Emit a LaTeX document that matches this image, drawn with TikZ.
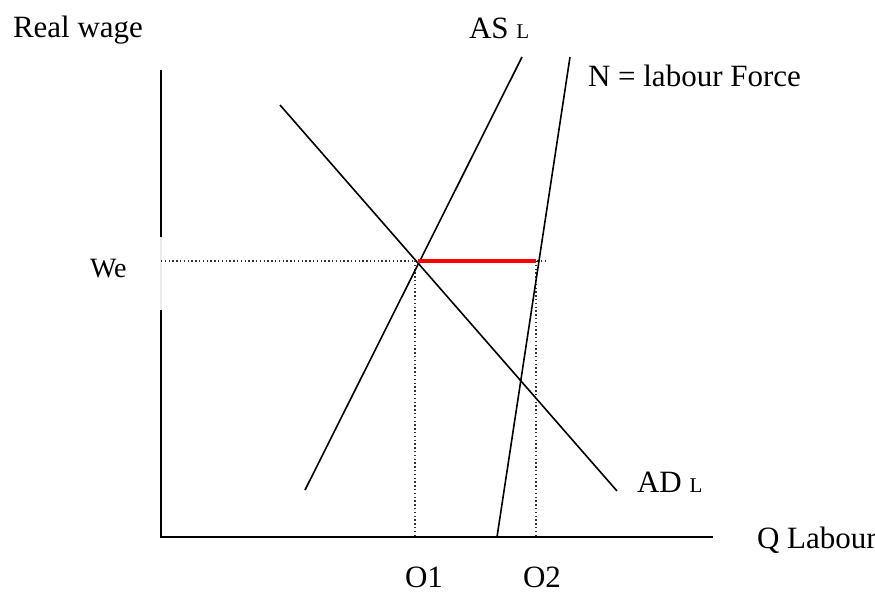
\documentclass[tikz,border=0pt]{standalone}
\usepackage{fontspec}
\setmainfont{Liberation Serif}
\newcommand{\bigtxt}{\fontsize{31}{37}\selectfont}
\newcommand{\smalltxt}{\fontsize{21}{25}\selectfont}
\newcommand{\wetxt}{\fontsize{28}{33}\selectfont}
\begin{document}
\begin{tikzpicture}[x=1pt,y=-1pt,
  curve/.style={line width=1.6pt,black},
  axisline/.style={line width=1.8pt,black},
  guide/.style={line width=1.4pt,black!80,dash pattern=on 1.4pt off 2.4pt},
  gapline/.style={line width=1.2pt,black!8},
  eqline/.style={line width=3.2pt,red},
  lbl/.style={anchor=base west,inner sep=0pt,outer sep=0pt,font=\bigtxt}]
\useasboundingbox[fill=white] (0,0) rectangle (875,592);
% coordinates
\coordinate (ytop) at (161,70);
\coordinate (gapA) at (161,237);
\coordinate (gapB) at (161,310);
\coordinate (orig) at (161,537);
\coordinate (xend) at (713,537);
\coordinate (adA) at (280,105);
\coordinate (adB) at (617,491);
\coordinate (asA) at (305,490);
\coordinate (asB) at (522,57);
\coordinate (nA) at (497,537);
\coordinate (nB) at (570,57);
\coordinate (weL) at (161,261);
\coordinate (weR) at (545,261);
\coordinate (e1) at (418,261);
\coordinate (e2) at (536,261);
\coordinate (o1) at (415,537);
\coordinate (o2) at (536,537);
% axes
\draw[axisline] (ytop) -- (gapA);
\draw[gapline] (gapA) -- (gapB);
\draw[axisline] (gapB) -- (orig) -- (xend);
% guides
\draw[guide] (weL) -- (weR);
\draw[guide] (e1 -| o1) -- (o1);
\draw[guide] (e2) -- (o2);
% curves
\draw[curve] (adA) -- (adB);
\draw[curve] (asA) -- (asB);
\draw[curve] (nA) -- (nB);
% equilibrium gap
\draw[eqline] (e1) -- (e2);
% labels
\node[lbl] (realwage) at (13,37) {Real wage};
\node[lbl] (asl) at (469,38) {AS {\smalltxt L}};
\node[lbl] (nlf) at (588,86) {N = labour Force};
\node[lbl,font=\wetxt] (we) at (90,277) {We};
\node[lbl] (adl) at (637,492) {AD {\smalltxt L}};
\node[lbl] (ql) at (757,548) {Q Labour};
\node[lbl] (o1l) at (405,587) {O1};
\node[lbl] (o2l) at (523,587) {O2};
\end{tikzpicture}
\end{document}
